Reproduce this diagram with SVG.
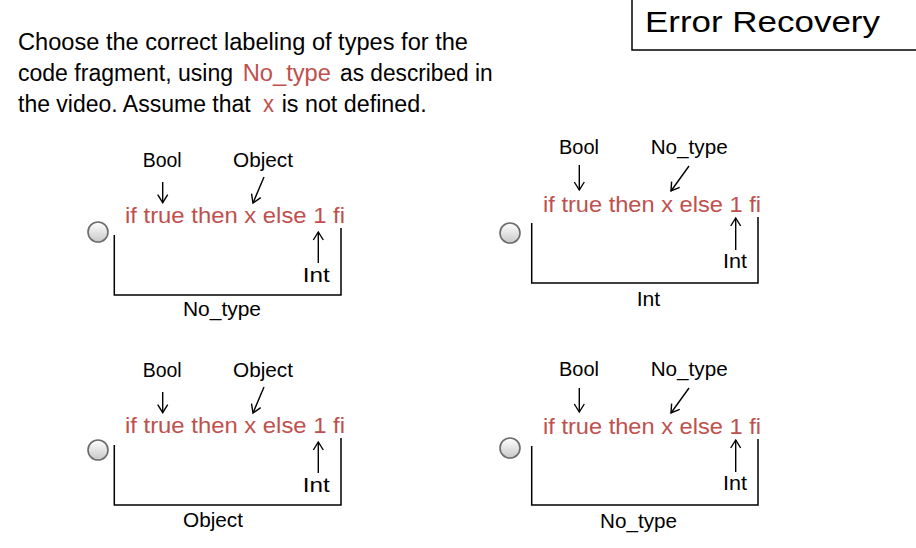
<svg xmlns="http://www.w3.org/2000/svg" width="916" height="548" viewBox="0 0 916 548">
<defs>
<style>
text{font-family:"Liberation Sans",Arial,sans-serif;fill:#000}
.hd{font-size:23px}
.lbl{font-size:20px}
.code{font-size:22px;fill:#c0504d}
.red{fill:#c0504d}
.title{font-size:29px}
.br{fill:none;stroke:#000;stroke-width:1.5}
.ar{fill:none;stroke:#000;stroke-width:1.4;marker-end:url(#ah)}
.rb{fill:url(#rg);stroke:#6a6a6a;stroke-width:1.6}
</style>
<marker id="ah" markerUnits="userSpaceOnUse" markerWidth="12" markerHeight="12" viewBox="0 0 12 12" refX="10" refY="6" orient="auto">
<path d="M2,1 L10,6 L2,11" fill="none" stroke="#000" stroke-width="1.4"/>
</marker>
<linearGradient id="rg" x1="0" y1="0" x2="0" y2="1">
<stop offset="0" stop-color="#ffffff"/>
<stop offset="1" stop-color="#c8c8c8"/>
</linearGradient>
</defs>
<rect width="916" height="548" fill="#fff"/>

<g id="title">
<path class="br" d="M632,0 V50 H916"/>
<text class="title" x="645" y="32" textLength="235" lengthAdjust="spacingAndGlyphs">Error Recovery</text>
</g>

<g id="question">
<text class="hd" x="18" y="50" textLength="450" lengthAdjust="spacingAndGlyphs">Choose the correct labeling of types for the</text>
<text class="hd" x="18" y="81" textLength="215" lengthAdjust="spacingAndGlyphs">code fragment, using</text>
<text class="hd red" x="242.7" y="81" textLength="88.3" lengthAdjust="spacingAndGlyphs">No_type</text>
<text class="hd" x="340" y="81" textLength="152.7" lengthAdjust="spacingAndGlyphs">as described in</text>
<text class="hd" x="18" y="112" textLength="232.7" lengthAdjust="spacingAndGlyphs">the video. Assume that</text>
<text class="hd red" x="263" y="112" textLength="11" lengthAdjust="spacingAndGlyphs">x</text>
<text class="hd" x="281.7" y="112" textLength="145" lengthAdjust="spacingAndGlyphs">is not defined.</text>
</g>

<g id="option1">
<circle class="rb" cx="98" cy="232" r="10"/>
<text class="lbl" x="142.7" y="166.5" textLength="39" lengthAdjust="spacingAndGlyphs">Bool</text>
<text class="lbl" x="233" y="166.5" textLength="60" lengthAdjust="spacingAndGlyphs">Object</text>
<text class="code" x="125" y="223" textLength="220" lengthAdjust="spacingAndGlyphs">if true then x else 1 fi</text>
<path class="br" d="M114.3,235 V295 H341 V228"/>
<text class="lbl" x="302.7" y="281.5" textLength="27" lengthAdjust="spacingAndGlyphs">Int</text>
<text class="lbl" x="183" y="316" textLength="78" lengthAdjust="spacingAndGlyphs">No_type</text>
</g>

<g id="option2">
<circle class="rb" cx="510" cy="233" r="10"/>
<text class="lbl" x="559" y="154" textLength="40" lengthAdjust="spacingAndGlyphs">Bool</text>
<text class="lbl" x="650.7" y="154" textLength="77" lengthAdjust="spacingAndGlyphs">No_type</text>
<text class="code" x="543" y="211.5" textLength="218" lengthAdjust="spacingAndGlyphs">if true then x else 1 fi</text>
<path class="br" d="M531.7,223 V283 H758 V217"/>
<text class="lbl" x="723" y="268" textLength="24" lengthAdjust="spacingAndGlyphs">Int</text>
<text class="lbl" x="636.7" y="306" textLength="23.5" lengthAdjust="spacingAndGlyphs">Int</text>
</g>

<g id="option3">
<circle class="rb" cx="98" cy="450" r="10"/>
<text class="lbl" x="142.7" y="376.5" textLength="39" lengthAdjust="spacingAndGlyphs">Bool</text>
<text class="lbl" x="233" y="376.5" textLength="60" lengthAdjust="spacingAndGlyphs">Object</text>
<text class="code" x="125" y="433" textLength="220" lengthAdjust="spacingAndGlyphs">if true then x else 1 fi</text>
<path class="br" d="M114.3,445 V505 H341 V438"/>
<text class="lbl" x="302.7" y="491.5" textLength="27" lengthAdjust="spacingAndGlyphs">Int</text>
<text class="lbl" x="183" y="527" textLength="60" lengthAdjust="spacingAndGlyphs">Object</text>
</g>

<g id="option4">
<circle class="rb" cx="510" cy="448" r="10"/>
<text class="lbl" x="559" y="376" textLength="40" lengthAdjust="spacingAndGlyphs">Bool</text>
<text class="lbl" x="650.7" y="376" textLength="77" lengthAdjust="spacingAndGlyphs">No_type</text>
<text class="code" x="543" y="433.5" textLength="218" lengthAdjust="spacingAndGlyphs">if true then x else 1 fi</text>
<path class="br" d="M531.7,446 V505 H758 V439"/>
<text class="lbl" x="723" y="490" textLength="24" lengthAdjust="spacingAndGlyphs">Int</text>
<text class="lbl" x="600" y="528" textLength="77" lengthAdjust="spacingAndGlyphs">No_type</text>
</g>

<g id="connectors">
<line class="ar" x1="162.7" y1="182" x2="162.7" y2="202.7"/>
<line class="ar" x1="264" y1="177" x2="253" y2="203"/>
<line class="ar" x1="318.3" y1="263" x2="318.3" y2="232"/>
<line class="ar" x1="579.3" y1="165" x2="579.3" y2="190"/>
<line class="ar" x1="689" y1="166" x2="671" y2="191"/>
<line class="ar" x1="735.7" y1="250" x2="735.7" y2="218"/>
<line class="ar" x1="162.7" y1="392" x2="162.7" y2="412.7"/>
<line class="ar" x1="264" y1="387" x2="253" y2="413"/>
<line class="ar" x1="318.3" y1="473" x2="318.3" y2="442"/>
<line class="ar" x1="579.3" y1="388" x2="579.3" y2="412"/>
<line class="ar" x1="689" y1="388" x2="671" y2="413"/>
<line class="ar" x1="735.7" y1="472" x2="735.7" y2="440"/>
</g>
</svg>
